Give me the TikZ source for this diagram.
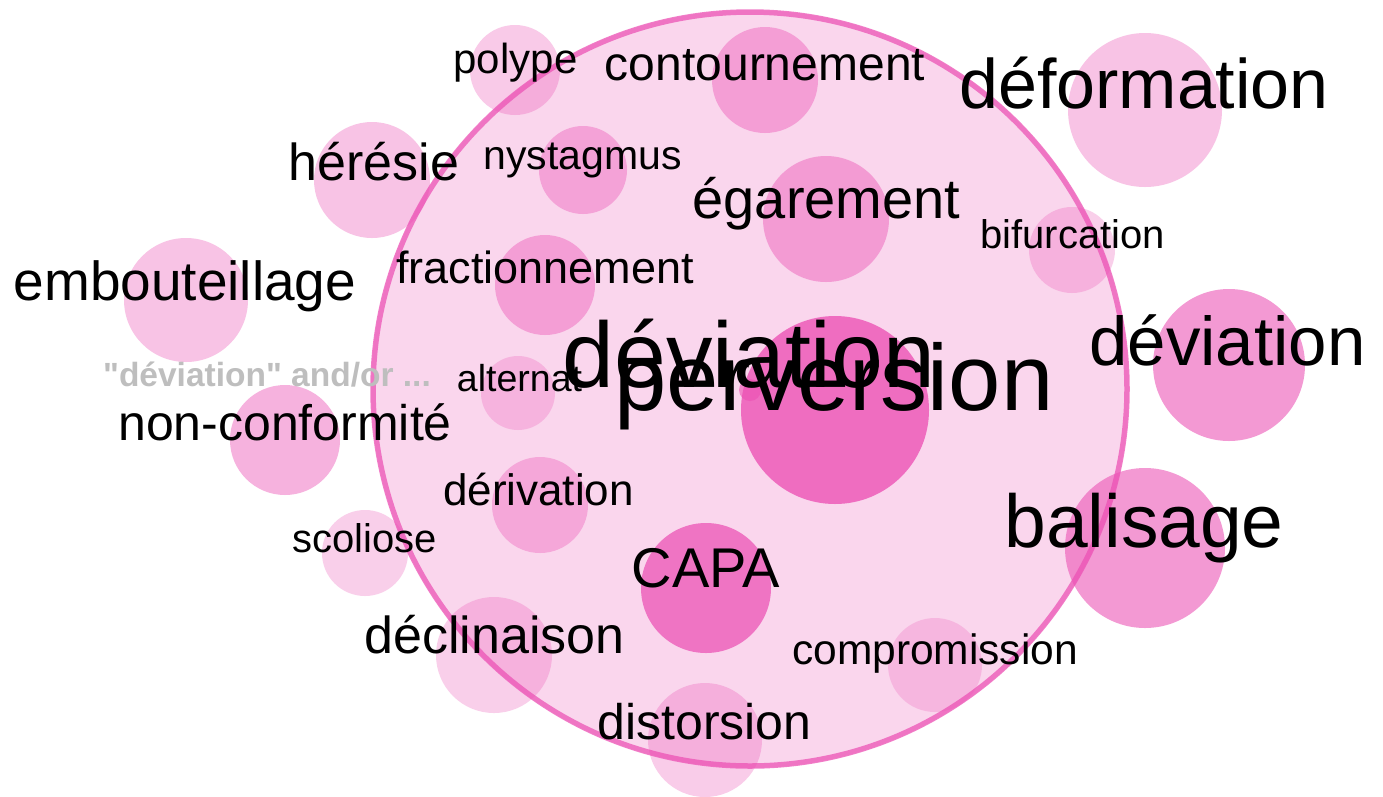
\documentclass[tikz,border=0pt]{standalone}
\usepackage{fontspec}
\setmainfont{Liberation Sans}[Ligatures=TeXOff]
\definecolor{bub}{RGB}{236,80,180}
\definecolor{grayword}{RGB}{190,190,190}
\tikzset{
  bubble/.style={circle, inner sep=0pt, draw=none, fill=bub, fill opacity=#1},
  word/.style={anchor=base, inner sep=0pt, text=black, font=\fontsize{#1pt}{#1pt}\selectfont},
  bigring/.style={draw=bub, draw opacity=0.73, line width=5.5pt}
}
\begin{document}
\begin{tikzpicture}[x=1pt,y=-1pt]
\fill[white] (0,0) rectangle (1383,796);
\useasboundingbox (0,0) rectangle (1383,796);
% big cluster circle
\node[bubble=0.23, minimum size=758pt] (big) at (750,389) {};
% bubbles
\node[bubble=0.30, minimum size=90pt]  (bpolype) at (515,70) {};
\node[bubble=0.41, minimum size=106pt] (bcontour) at (765,80) {};
\node[bubble=0.34, minimum size=154pt] (bdeform) at (1145,110) {};
\node[bubble=0.34, minimum size=116pt] (bheresie) at (372,180) {};
\node[bubble=0.385, minimum size=88pt] (bnyst) at (583,170) {};
\node[bubble=0.44, minimum size=126pt] (begar) at (826,219) {};
\node[bubble=0.27, minimum size=86pt]  (bbifur) at (1072,250) {};
\node[bubble=0.34, minimum size=124pt] (bembout) at (186,300) {};
\node[bubble=0.41, minimum size=100pt] (bfract) at (545,285) {};
\node[bubble=0.58, minimum size=152pt] (bdevr) at (1229,365) {};
\node[bubble=0.26, minimum size=74pt]  (balter) at (518,393) {};
\node[bubble=0.78, minimum size=188pt] (bcenter) at (835,410) {};
\node[bubble=0.44, minimum size=110pt] (bnonconf) at (285,440) {};
\node[bubble=0.35, minimum size=96pt]  (bderiv) at (540,505) {};
\node[bubble=0.58, minimum size=160pt] (bbalis) at (1145,548) {};
\node[bubble=0.27, minimum size=86pt]  (bscol) at (365,553) {};
\node[bubble=0.73, minimum size=130pt] (bcapa) at (706,588) {};
\node[bubble=0.27, minimum size=116pt] (bdeclin) at (494,655) {};
\node[bubble=0.23, minimum size=94pt]  (bcompro) at (935,665) {};
\node[bubble=0.29, minimum size=114pt] (bdistor) at (705,740) {};
\node[bubble=0.6, minimum size=22pt]   (btiny) at (750,390) {};
% ring of the big circle
\draw[bigring] (big.center) circle[radius=377pt];
% words
\node[word=42] (tpolype) at (515.5,73) {polype};
\node[word=48] (tcontour) at (765,80) {contournement};
\node[word=70] (tdeform) at (1144,108) {déformation};
\node[word=52] (theresie) at (374,180) {hérésie};
\node[word=41] (tnyst) at (582.5,169) {nystagmus};
\node[word=56] (tegar) at (826.5,218) {égarement};
\node[word=40] (tbifur) at (1072.5,248) {bifurcation};
\node[word=55] (tembout) at (185,300) {embouteillage};
\node[word=45] (tfract) at (545,283) {fractionnement};
\node[word=93] (tdevc) at (749,387) {déviation};
\node[word=94] (tperv) at (834,410) {perversion};
\node[word=69] (tdevr) at (1227.5,365) {déviation};
\node[anchor=base, inner sep=0pt, text=grayword, font=\fontsize{33.5pt}{33.5pt}\selectfont\bfseries] (tquery) at (267,386) {"déviation" and/or ...};
\node[word=37.5] (talter) at (519.5,391) {alternat};
\node[word=50] (tnonconf) at (285,440) {non-conformité};
\node[word=44] (tderiv) at (538.5,505) {dérivation};
\node[word=75] (tbalis) at (1144,547) {balisage};
\node[word=40] (tscol) at (365,552) {scoliose};
\node[word=56] (tcapa) at (706,587) {CAPA};
\node[word=52] (tdeclin) at (494.5,653) {déclinaison};
\node[word=42.5] (tcompro) at (935,664) {compromission};
\node[word=50] (tdistor) at (704.5,739) {distorsion};
\end{tikzpicture}
\end{document}
